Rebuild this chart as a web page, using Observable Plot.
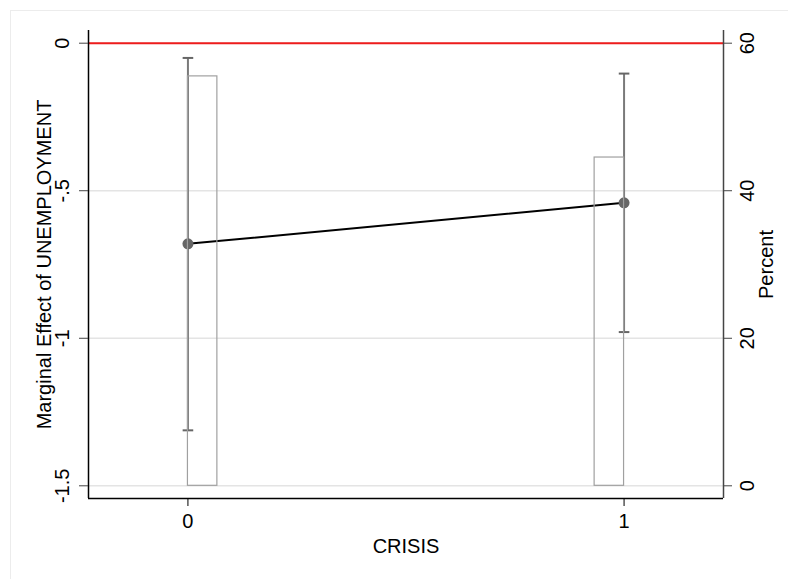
<!DOCTYPE html>
<html>
<head>
<meta charset="utf-8">
<script src="https://cdn.jsdelivr.net/npm/d3@7"></script>
<script src="https://cdn.jsdelivr.net/npm/@observablehq/plot@0.6"></script>
<style>
  html, body { margin: 0; padding: 0; background: #ffffff; }
  #wrap { position: relative; width: 788px; height: 579px; overflow: hidden; }
  #border { position: absolute; left: 10px; top: 10px; width: 800px; height: 600px; border: 1px solid #ececec; box-sizing: border-box; }
  #chart { position: absolute; left: 0; top: 0; }
</style>
</head>
<body>
<div id="wrap"><div id="border"></div><div id="chart"></div></div>
<script>
// ---- data ----
const categories = [0, 1];                 // CRISIS
const effect = [-0.680, -0.541];           // marginal effect of UNEMPLOYMENT
const ciLow = [-1.312, -0.979];
const ciHigh = [-0.050, -0.103];
const percent = [55.5, 44.5];              // histogram of CRISIS (percent)
const yTicks = [0, -0.5, -1, -1.5];
const yTickLabels = ["0", "-.5", "-1", "-1.5"];
const pctTicks = [0, 20, 40, 60];
const xTicks = [0, 1];
const xLabel = "CRISIS";
const yLabel = "Marginal Effect of UNEMPLOYMENT";
const y2Label = "Percent";

// ---- build tables ----
const pctToY = p => p / 40 - 1.5;          // right axis (0..60) aligned with left (-1.5..0)
const barW = 0.0675;
const rows = categories.map((c, i) => ({
  crisis: c, effect: effect[i], lo: ciLow[i], hi: ciHigh[i], pct: percent[i],
  bx1: i === 0 ? c : c - barW, bx2: i === 0 ? c + barW : c
}));
const caps = rows.flatMap(r => [{crisis: r.crisis, v: r.lo}, {crisis: r.crisis, v: r.hi}]);
const capSymbol = { draw(ctx) { ctx.moveTo(-5.3, 0); ctx.lineTo(5.3, 0); } };

const xDomain = [-0.228, 1.228];
const yDomain = [-1.543, 0.043];
const font = "'Liberation Sans', Arial, Helvetica, sans-serif";
const fs = 20;

const chart = Plot.plot({
  width: 788,
  height: 579,
  marginLeft: 88,
  marginRight: 65,
  marginTop: 30,
  marginBottom: 81,
  style: { fontFamily: font, fontSize: fs + "px", background: "transparent", color: "#000" },
  x: { domain: xDomain },
  y: { domain: yDomain },
  marks: [
    Plot.gridY(yTicks, { stroke: "#e4e4e4", strokeOpacity: 1, strokeWidth: 1.5 }),
    Plot.ruleY([0], { stroke: "#ee1c1c", strokeWidth: 2 }),
    // CI
    Plot.ruleX(rows, { x: "crisis", y1: "lo", y2: "hi", stroke: "#7a7a7a", strokeWidth: 2 }),
    Plot.dot(caps, { x: "crisis", y: "v", symbol: capSymbol, fill: "none", stroke: "#666", strokeWidth: 2 }),
    // effect line + markers
    Plot.line(rows, { x: "crisis", y: "effect", stroke: "#000", strokeWidth: 2 }),
    Plot.dot(rows, { x: "crisis", y: "effect", r: 5.5, fill: "#666", stroke: "none" }),
    // histogram bars (percent, right axis)
    Plot.rect(rows, { x1: "bx1", x2: "bx2", y1: () => pctToY(0), y2: d => pctToY(d.pct), fill: "none", stroke: "#a0a0a0", strokeWidth: 1.2 }),
    // frame lines
    Plot.ruleX([xDomain[0]], { stroke: "#000", strokeWidth: 1.5 }),
    Plot.ruleX([xDomain[1]], { stroke: "#444", strokeWidth: 1.5 }),
    Plot.ruleY([yDomain[0]], { stroke: "#000", strokeWidth: 1.5 }),
    // axes
    Plot.axisY({ anchor: "left", ticks: yTicks, tickFormat: d => yTickLabels[yTicks.indexOf(d)],
      tickSize: 9, tickRotate: -90, textAnchor: "middle", lineAnchor: "bottom", tickPadding: 11,
      stroke: "#444", fill: "#000", label: null }),
    Plot.axisY({ anchor: "right", ticks: pctTicks.map(pctToY), tickFormat: d => String(Math.round((d + 1.5) * 40)),
      tickSize: 8, tickRotate: -90, textAnchor: "middle", lineAnchor: "top", tickPadding: 8,
      stroke: "#444", fill: "#000", label: null }),
    Plot.axisX({ ticks: xTicks, tickFormat: d => String(d), tickSize: 8, tickPadding: 7,
      stroke: "#000", fill: "#000", label: null }),
    // axis titles
    Plot.text([yLabel], { frameAnchor: "left", dx: -44, rotate: -90, textAnchor: "middle", text: d => d, fontSize: fs, fill: "#000" }),
    Plot.text([y2Label], { frameAnchor: "right", dx: 43, rotate: -90, textAnchor: "middle", text: d => d, fontSize: fs, fill: "#000" }),
    Plot.text([xLabel], { frameAnchor: "bottom", dy: 54, textAnchor: "middle", text: d => d, fontSize: fs, fill: "#000" })
  ]
});
document.getElementById("chart").appendChild(chart);
</script>
</body>
</html>
